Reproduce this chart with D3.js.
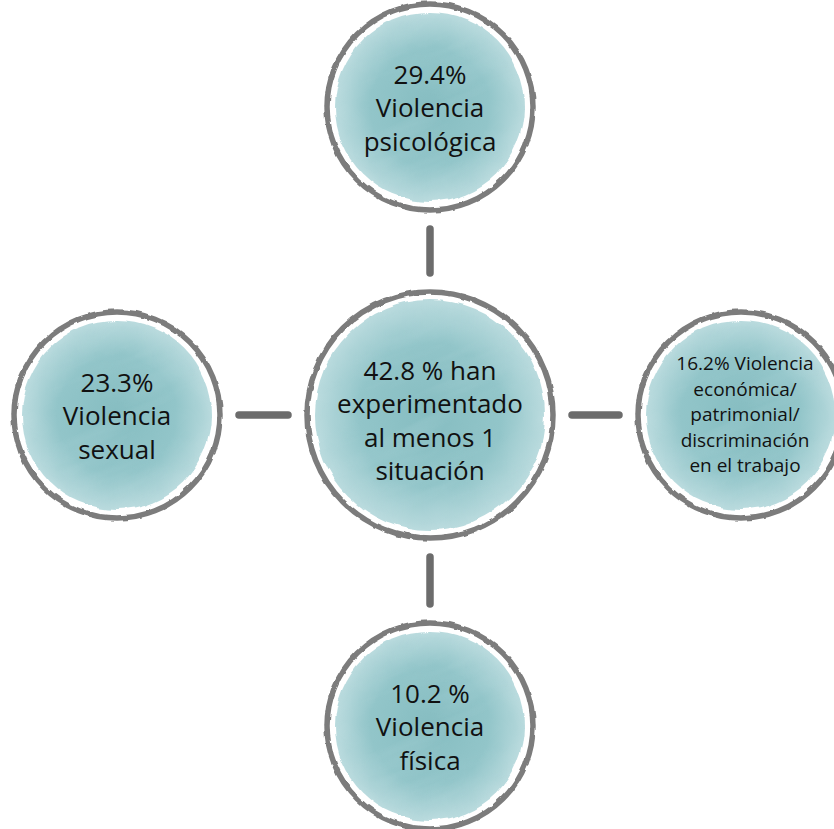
<!DOCTYPE html>
<html>
<head>
<meta charset="utf-8">
<script src="https://cdn.jsdelivr.net/npm/d3@7"></script>
<style>
  html, body { margin: 0; padding: 0; background: #ffffff; }
  svg { display: block; }
  .label { font-family: 'Open Sans', sans-serif; fill: #111111; text-anchor: middle; }
</style>
</head>
<body>
<div id="chart"></div>
<script>
// node ids, where each sits, and its text (percent first)
const nodes = ['psicologica', 'sexual', 'total', 'economica', 'fisica'];
const columns = ['middle', 'left', 'middle', 'right', 'middle'];
const rows = ['top', 'center', 'center', 'center', 'bottom'];
const percents = [29.4, 23.3, 42.8, 16.2, 10.2];
const labelLines = [
  ['29.4%', 'Violencia', 'psicológica'],
  ['23.3%', 'Violencia', 'sexual'],
  ['42.8 % han', 'experimentado', 'al menos 1', 'situación'],
  ['16.2% Violencia', 'económica/', 'patrimonial/', 'discriminación', 'en el trabajo'],
  ['10.2 %', 'Violencia', 'física']
];
// the hub is linked to each of the four categories
const links = [['total', 'psicologica'], ['total', 'sexual'], ['total', 'economica'], ['total', 'fisica']];

const width = 834, height = 829;
const config = {
  colX: { left: 117, middle: 430, right: 741 },
  rowY: { top: 107, center: 415, bottom: 726 },
  radius: 103,
  hubRadius: 123,
  gap: 19,
  ring: '#7c7c7c',
  line: '#6c6c6c'
};

const x = d3.scaleOrdinal().domain(['left', 'middle', 'right']).range([config.colX.left, config.colX.middle, config.colX.right]);
const y = d3.scaleOrdinal().domain(['top', 'center', 'bottom']).range([config.rowY.top, config.rowY.center, config.rowY.bottom]);

const data = nodes.map((id, i) => ({
  id: id,
  col: columns[i],
  row: rows[i],
  value: percents[i],
  lines: labelLines[i],
  hub: id === 'total'
}));
data.forEach(d => {
  d.cx = x(d.col);
  d.cy = y(d.row);
  d.r = d.hub ? config.hubRadius : config.radius;
});
const byId = new Map(data.map(d => [d.id, d]));

const svg = d3.select('#chart').append('svg')
  .attr('width', width)
  .attr('height', height);

const defs = svg.append('defs');

const grad = defs.append('radialGradient').attr('id', 'wash');
grad.append('stop').attr('offset', '0%').attr('stop-color', '#86bdc1');
grad.append('stop').attr('offset', '62%').attr('stop-color', '#92c5c9');
grad.append('stop').attr('offset', '100%').attr('stop-color', '#badbde');

// rough brush edge
const rough = defs.append('filter').attr('id', 'rough')
  .attr('x', '-10%').attr('y', '-10%').attr('width', '120%').attr('height', '120%');
rough.append('feTurbulence').attr('type', 'fractalNoise').attr('baseFrequency', '0.04').attr('numOctaves', 2).attr('seed', 3).attr('result', 'n');
rough.append('feDisplacementMap').attr('in', 'SourceGraphic').attr('in2', 'n').attr('scale', 7)
  .attr('xChannelSelector', 'R').attr('yChannelSelector', 'G');

const ringRough = defs.append('filter').attr('id', 'ringRough')
  .attr('x', '-10%').attr('y', '-10%').attr('width', '120%').attr('height', '120%');
ringRough.append('feTurbulence').attr('type', 'fractalNoise').attr('baseFrequency', '0.08').attr('numOctaves', 2).attr('seed', 7).attr('result', 'n');
ringRough.append('feDisplacementMap').attr('in', 'SourceGraphic').attr('in2', 'n').attr('scale', 3)
  .attr('xChannelSelector', 'R').attr('yChannelSelector', 'G');

// streaky watercolour texture
const streak = defs.append('filter').attr('id', 'streak')
  .attr('x', '0%').attr('y', '0%').attr('width', '100%').attr('height', '100%');
streak.append('feTurbulence').attr('type', 'fractalNoise').attr('baseFrequency', '0.006 0.045').attr('numOctaves', 3).attr('seed', 11).attr('result', 't');
streak.append('feColorMatrix').attr('in', 't').attr('type', 'matrix')
  .attr('values', '0 0 0 0 0.42  0 0 0 0 0.66  0 0 0 0 0.69  0 0 0 1.6 -0.72')
  .attr('result', 'c');
streak.append('feComposite').attr('in', 'c').attr('in2', 'SourceGraphic').attr('operator', 'in');

// connectors
svg.append('g').attr('class', 'links')
  .selectAll('line')
  .data(links)
  .join('line')
  .each(function (l) {
    const a = byId.get(l[0]), b = byId.get(l[1]);
    const dx = b.cx - a.cx, dy = b.cy - a.cy;
    const len = Math.sqrt(dx * dx + dy * dy);
    const ux = dx / len, uy = dy / len;
    const s = a.r + config.gap, e = len - b.r - config.gap;
    d3.select(this)
      .attr('x1', a.cx + ux * s).attr('y1', a.cy + uy * s)
      .attr('x2', a.cx + ux * e).attr('y2', a.cy + uy * e);
  })
  .attr('stroke', config.line)
  .attr('stroke-width', 7.5)
  .attr('stroke-linecap', 'round');

const g = svg.append('g').attr('class', 'nodes')
  .selectAll('g')
  .data(data)
  .join('g')
  .attr('transform', d => `translate(${d.cx},${d.cy})`);

g.append('circle')
  .attr('r', d => d.r - 8)
  .attr('fill', 'url(#wash)')
  .attr('filter', 'url(#rough)');

g.append('g')
  .attr('transform', 'rotate(-22)')
  .append('circle')
  .attr('r', d => d.r - 14)
  .attr('fill', '#000')
  .attr('filter', 'url(#streak)')
  .attr('opacity', 0.55);

g.append('circle')
  .attr('r', d => d.r)
  .attr('fill', 'none')
  .attr('stroke', config.ring)
  .attr('stroke-width', 5.5)
  .attr('filter', 'url(#ringRough)');

g.each(function (d) {
  const small = d.lines.length > 4;
  const size = small ? 19 : 26;
  const lh = small ? 25.5 : 33.5;
  const shift = small ? 6 : (d.hub ? 15 : 10);
  const dx = small ? 4 : 0;
  const t = d3.select(this).append('text')
    .attr('class', 'label')
    .style('font-size', size + 'px')
    .attr('x', dx);
  d.lines.forEach((s, i) => {
    t.append('tspan')
      .attr('x', dx)
      .attr('y', (i - (d.lines.length - 1) / 2) * lh + shift)
      .text(s);
  });
});
</script>
</body>
</html>
